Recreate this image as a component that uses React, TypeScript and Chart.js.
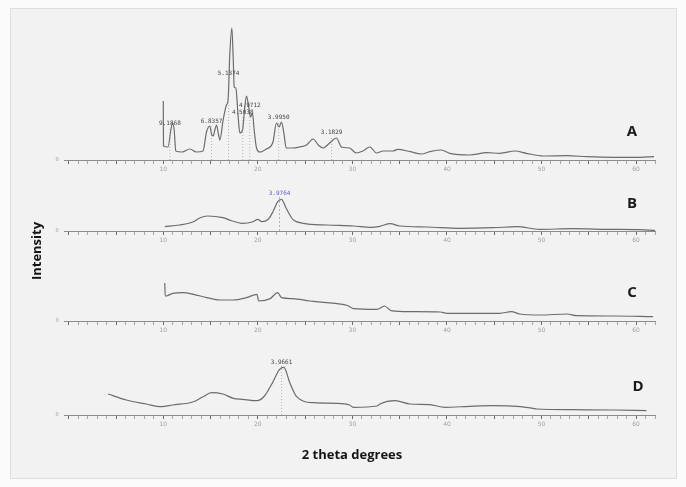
import React, { useEffect, useRef } from 'react';
import { Chart, registerables } from 'chart.js';
Chart.register(...registerables);

// ---------- data ----------
const X_MIN = -0.5;
const X_MAX = 62;
const tickValues = Array.from({ length: 63 }, (_, i) => i);

const thetaA = [10.0, 10.02, 10.5, 10.8, 10.97, 11.15, 11.32, 12.0, 12.8, 13.5, 14.2, 14.57, 14.92, 15.1, 15.27, 15.45, 15.63, 15.85, 15.98, 16.33, 16.68, 16.85, 17.04, 17.25, 17.4, 17.5, 17.67, 17.92, 18.1, 18.38, 18.62, 18.8, 19.05, 19.22, 19.43, 19.61, 19.86, 20.2, 20.9, 21.6, 21.97, 22.25, 22.5, 22.75, 23.0, 23.7, 24.4, 25.15, 25.85, 26.4, 26.9, 27.6, 28.3, 28.85, 29.7, 30.4, 31.1, 31.85, 32.55, 33.25, 34.3, 34.8, 36.1, 37.3, 38.2, 39.4, 40.3, 42.4, 44.2, 45.6, 47.2, 48.4, 50.2, 52.7, 54.8, 57.6, 60.4, 61.9];
const intensityA = [59, 14, 13, 30, 37, 30, 9, 8, 11, 8, 9, 28, 34, 26, 24, 30, 35, 25, 20, 40, 55, 60, 107, 132, 100, 73, 72, 43, 27, 30, 53, 64, 52, 43, 47, 30, 12, 8, 11, 18, 37, 33, 38, 27, 12, 12, 13, 15, 21, 15, 12, 17, 22, 13, 12, 7, 9, 13, 7, 9, 9, 10.7, 8.3, 6, 8.3, 10, 6.7, 5, 7.3, 6.7, 9, 6.7, 4, 4.3, 3.3, 2.7, 2.7, 3.3];

const thetaB = [10.16, 11.7, 13.2, 13.9, 14.7, 16.3, 17.2, 18.3, 19.5, 20.0, 20.4, 21.1, 21.6, 22.1, 22.5, 23.0, 23.7, 24.8, 27.3, 30.1, 32.0, 32.9, 34.0, 35.0, 37.9, 41.4, 44.9, 47.4, 49.8, 53.3, 56.9, 60.4, 62.0];
const intensityB = [4.3, 6, 9.3, 13.3, 15, 13.3, 10.3, 7.7, 9.3, 11.7, 9.3, 11.7, 19.3, 29.3, 31.7, 22.7, 11.7, 7.7, 6, 5, 3.7, 4.7, 7.4, 5, 4, 2.7, 3.3, 4.3, 1.7, 2.3, 1.7, 1.3, 0.7];

const thetaC = [10.16, 10.2, 10.3, 11.0, 12.1, 13.2, 14.6, 16.0, 17.4, 18.8, 19.9, 20.1, 21.3, 22.1, 22.5, 23.7, 25.5, 27.3, 29.4, 30.1, 32.6, 33.4, 34.1, 36.1, 39.3, 40.0, 43.1, 45.6, 46.8, 47.7, 49.8, 52.7, 53.7, 57.6, 61.8];
const intensityC = [38, 25, 25, 27.7, 28.4, 26.7, 23.4, 21, 21, 23.4, 26.7, 20, 22.4, 28.4, 23.4, 22.4, 20, 18.4, 15.7, 12.4, 11.7, 15, 10.3, 9.3, 9, 7.7, 7.7, 7.7, 9.3, 7, 6, 7, 5.3, 5, 4.3];

const thetaD = [4.16, 6.1, 8.2, 9.8, 11.0, 13.2, 14.2, 15.1, 16.3, 17.4, 18.4, 19.9, 20.7, 21.6, 22.3, 22.75, 23.4, 24.1, 25.9, 28.3, 29.7, 30.1, 32.6, 32.9, 34.5, 36.1, 38.2, 39.8, 42.4, 44.9, 47.4, 49.1, 49.5, 53.4, 57.6, 61.1];
const intensityD = [21, 15, 11, 8.3, 10, 13.3, 18.3, 22.3, 21, 16.7, 15.7, 14.3, 19, 33.3, 45.7, 47.7, 31.7, 18.3, 12.3, 11.7, 10, 7.7, 9, 11, 14.3, 11, 10.3, 7.7, 8.7, 9.3, 8.7, 6.7, 6, 5.3, 5, 4.3];

const peakTextA = ['9.1868', '6.8357', '5.1374', '4.5038', '4.9712', '3.9950', '3.1829'];
const peakThetaA = [10.7, 15.1, 16.9, 18.4, 19.15, 22.2, 27.8];
const peakHeightA = [37, 39, 87, 48, 55, 43, 28];

const peakTextB = ['3.9764'];
const peakThetaB = [22.3];
const peakHeightB = [38];

const peakTextD = ['3.9661'];
const peakThetaD = [22.5];
const peakHeightD = [53];

const traceNames = ['A', 'B', 'C', 'D'];

// ---------- layout constants ----------
const W = 686;
const H = 487;
const OFFSETS = [255, 184, 94, 0];
const LINE_COLOR = '#6c6c6c';

export default function App() {
  const ref = useRef<HTMLCanvasElement | null>(null);

  useEffect(() => {
    const canvas = ref.current;
    if (!canvas) return;

    const traces = [
      { theta: thetaA, inten: intensityA },
      { theta: thetaB, inten: intensityB },
      { theta: thetaC, inten: intensityC },
      { theta: thetaD, inten: intensityD },
    ];
    const peaks = [
      { text: peakTextA, theta: peakThetaA, h: peakHeightA, color: '#444', dash: [1, 2] },
      { text: peakTextB, theta: peakThetaB, h: peakHeightB, color: '#5a5ad0', dash: [2, 2] },
      { text: [], theta: [], h: [], color: '#444', dash: [1, 2] },
      { text: peakTextD, theta: peakThetaD, h: peakHeightD, color: '#444', dash: [1, 2] },
    ];

    const axisIds = ['xA', 'xB', 'xC', 'xD'];
    const scales: any = {
      y: { type: 'linear', min: 0, max: 400, display: false },
    };
    axisIds.forEach((id, i) => {
      scales[id] = {
        type: 'linear',
        axis: 'x',
        position: { y: OFFSETS[i] },
        min: X_MIN,
        max: X_MAX,
        afterBuildTicks: (scale: any) => {
          scale.ticks = tickValues.map((v) => ({ value: v }));
        },
        ticks: {
          autoSkip: false,
          maxRotation: 0,
          padding: 3,
          color: '#a0a0a0',
          font: { size: 6, family: 'DejaVu Sans' },
          callback: (v: any) => (Number(v) % 10 === 0 && Number(v) > 0 ? String(v) : ''),
        },
        grid: {
          drawOnChartArea: false,
          drawTicks: true,
          tickLength: 3,
          tickWidth: 1,
          tickColor: (ctx: any) => (ctx.tick && ctx.tick.value % 5 === 0 ? '#6a6a6a' : '#a8a8a8'),
        },
        border: { display: true, color: '#8c8c8c', width: 1 },
      };
    });

    const datasets = traces.map((t, i) => ({
      label: traceNames[i],
      data: t.theta.map((x, k) => ({ x, y: t.inten[k] + OFFSETS[i] })),
      xAxisID: axisIds[i],
      yAxisID: 'y',
      borderColor: LINE_COLOR,
      borderWidth: 1.2,
      pointRadius: 0,
      cubicInterpolationMode: 'monotone',
      fill: false,
    }));

    const bgPlugin = {
      id: 'bg',
      beforeDraw(chart: any) {
        const c = chart.ctx;
        c.save();
        c.fillStyle = '#fbfbfb';
        c.fillRect(0, 0, chart.width, chart.height);
        c.fillStyle = '#f2f2f2';
        c.fillRect(10, 8, 666, 470);
        c.strokeStyle = '#dedede';
        c.lineWidth = 1;
        c.strokeRect(10.5, 8.5, 666, 470);
        c.restore();
      },
    };

    const textPlugin = {
      id: 'texts',
      afterDraw(chart: any) {
        const c = chart.ctx;
        const yS = chart.scales.y;
        const area = chart.chartArea;
        c.save();
        peaks.forEach((p, i) => {
          const xs = chart.scales[axisIds[i]];
          p.text.forEach((txt: string, k: number) => {
            const px = xs.getPixelForValue(p.theta[k]);
            const py = yS.getPixelForValue(p.h[k] + OFFSETS[i]);
            const base = yS.getPixelForValue(OFFSETS[i]);
            c.strokeStyle = '#8a8a8a';
            c.lineWidth = 0.6;
            c.setLineDash(p.dash);
            c.beginPath();
            c.moveTo(px, base);
            c.lineTo(px, py + 4);
            c.stroke();
            c.setLineDash([]);
            c.fillStyle = p.color;
            c.font = '6px "DejaVu Sans Mono"';
            c.textAlign = 'center';
            c.textBaseline = 'middle';
            c.fillText(txt, px, py);
          });
          c.fillStyle = '#999';
          c.font = '5px "DejaVu Sans"';
          c.textAlign = 'center';
          c.textBaseline = 'middle';
          c.fillText('0', area.left - 7, yS.getPixelForValue(OFFSETS[i]));
        });
        c.fillStyle = '#1a1a1a';
        c.font = 'bold 15px "Open Sans"';
        c.textAlign = 'center';
        c.textBaseline = 'middle';
        const letterX = [632, 632, 632, 638];
        const letterDy = [28, 27, 28, 28];
        traceNames.forEach((n, i) => {
          c.fillText(n, letterX[i], yS.getPixelForValue(OFFSETS[i]) - letterDy[i]);
        });
        c.font = 'bold 13px "Open Sans"';
        c.fillStyle = '#151515';
        c.fillText('2 theta degrees', 352, 455);
        c.translate(37, 251);
        c.rotate(-Math.PI / 2);
        c.fillText('Intensity', 0, 0);
        c.restore();
      },
    };

    const chart = new Chart(canvas, {
      type: 'line',
      data: { datasets },
      options: {
        animation: false,
        responsive: false,
        maintainAspectRatio: false,
        parsing: false as any,
        layout: { padding: { left: 64, right: W - 655, top: 15, bottom: H - 415 } },
        plugins: { legend: { display: false }, tooltip: { enabled: false } },
        scales,
      },
      plugins: [bgPlugin, textPlugin],
    } as any);

    return () => chart.destroy();
  }, []);

  return (
    <div style={{ position: 'fixed', left: 0, top: 0, width: W, height: H }}>
      <canvas ref={ref} width={W} height={H} style={{ width: W, height: H, display: 'block' }} />
    </div>
  );
}
